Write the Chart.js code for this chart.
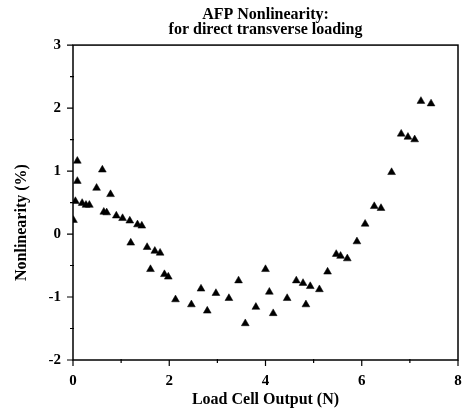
<!DOCTYPE html>
<html>
<head>
<meta charset="utf-8">
<script src="https://cdn.jsdelivr.net/npm/chart.js@4.4.1/dist/chart.umd.min.js"></script>
<style>
  body { margin: 0; background: #fff; }
  canvas { display: block; }
</style>
</head>
<body>
<canvas id="nonlinChart" width="464" height="410"></canvas>
<script>
    // load cell output (N) and nonlinearity (%)
    const loadN = [
      0.01, 0.05, 0.09, 0.09, 0.19, 0.27, 0.34, 0.49, 0.61, 0.64,
      0.70, 0.78, 0.90, 1.03, 1.18, 1.20, 1.34, 1.43, 1.54, 1.61,
      1.70, 1.81, 1.90, 1.98, 2.13, 2.46, 2.66, 2.79, 2.97, 3.24,
      3.44, 3.58, 3.80, 4.00, 4.08, 4.16, 4.45, 4.64, 4.78, 4.84,
      4.93, 5.12, 5.29, 5.47, 5.56, 5.70, 5.90, 6.07, 6.26, 6.40,
      6.62, 6.82, 6.96, 7.10, 7.23, 7.44
    ];
    const nonlinPct = [
      0.22, 0.52, 0.84, 1.16, 0.49, 0.46, 0.46, 0.73, 1.02, 0.35,
      0.34, 0.63, 0.29, 0.25, 0.21, -0.14, 0.15, 0.13, -0.21, -0.56,
      -0.27, -0.30, -0.64, -0.68, -1.04, -1.12, -0.87, -1.22, -0.94, -1.02,
      -0.74, -1.42, -1.16, -0.56, -0.92, -1.26, -1.02, -0.74, -0.78, -1.12,
      -0.83, -0.88, -0.60, -0.32, -0.35, -0.39, -0.12, 0.16, 0.44, 0.41,
      0.98, 1.59, 1.54, 1.50, 2.11, 2.07
    ];
    const xMajor = [0, 2, 4, 6, 8];
    const xMinor = [1, 3, 5, 7];
    const yMajor = [-2, -1, 0, 1, 2, 3];
    const yMinor = [-1.5, -0.5, 0.5, 1.5, 2.5];
    const titleLines = ['AFP Nonlinearity:', 'for direct transverse loading'];

    const serif = '"Liberation Serif", "Times New Roman", serif';
    const ctx = document.getElementById('nonlinChart').getContext('2d');

    // box round the plot plus the tick marks (long outside, short minor)
    const frameTicks = {
      id: 'frameTicks',
      afterDatasetsDraw(chart) {
        const { ctx, chartArea: a, scales: { x, y } } = chart;
        ctx.save();
        ctx.strokeStyle = '#000';
        ctx.lineWidth = 1.5;
        ctx.strokeRect(a.left, a.top, a.right - a.left, a.bottom - a.top);
        ctx.lineWidth = 1.2;
        ctx.beginPath();
        xMajor.forEach(v => {
          const px = x.getPixelForValue(v);
          ctx.moveTo(px, a.bottom); ctx.lineTo(px, a.bottom + 6);
        });
        xMinor.forEach(v => {
          const px = x.getPixelForValue(v);
          ctx.moveTo(px, a.bottom - 1); ctx.lineTo(px, a.bottom + 3);
        });
        yMajor.forEach(v => {
          const py = y.getPixelForValue(v);
          ctx.moveTo(a.left, py); ctx.lineTo(a.left - 6, py);
        });
        yMinor.forEach(v => {
          const py = y.getPixelForValue(v);
          ctx.moveTo(a.left + 1, py); ctx.lineTo(a.left - 3, py);
        });
        ctx.stroke();
        ctx.restore();
      }
    };

    new Chart(ctx, {
      type: 'scatter',
      data: {
        datasets: [{
          label: 'Nonlinearity',
          data: loadN.map((v, i) => ({ x: v, y: nonlinPct[i] })),
          pointStyle: 'triangle',
          pointRadius: 4.5,
          backgroundColor: '#000',
          borderColor: '#000',
          borderWidth: 0.5
        }]
      },
      options: {
        responsive: false,
        animation: false,
        layout: { padding: { left: 0, right: 6, top: 0, bottom: 0 } },
        plugins: {
          legend: { display: false },
          tooltip: { enabled: false },
          title: {
            display: true,
            fullSize: false, // centred over the plot, not the canvas
            text: titleLines,
            color: '#000',
            font: { family: serif, size: 16, weight: 'bold', lineHeight: 0.94 },
            padding: { top: 7, bottom: 8 }
          }
        },
        scales: {
          x: {
            type: 'linear',
            min: 0,
            max: 8,
            afterFit: s => { s.height = 50; s.paddingLeft = 0; s.paddingRight = 0; },
            grid: { display: false, drawTicks: false },
            border: { display: false },
            ticks: {
              stepSize: 2,
              padding: 12,
              color: '#000',
              font: { family: serif, size: 15, weight: 'bold' }
            },
            title: {
              display: true,
              text: 'Load Cell Output (N)',
              color: '#000',
              font: { family: serif, size: 16, weight: 'bold' },
              padding: { top: 0, bottom: 1 }
            }
          },
          y: {
            type: 'linear',
            min: -2,
            max: 3,
            afterFit: s => { s.width = 73; },
            grid: { display: false, drawTicks: false },
            border: { display: false },
            ticks: {
              stepSize: 1,
              padding: 12,
              color: '#000',
              font: { family: serif, size: 15, weight: 'bold' }
            },
            title: {
              display: true,
              // trailing spaces push the rotated text down, as in the source
              text: 'Nonlinearity (%)' + '\u00a0'.repeat(10),
              color: '#000',
              font: { family: serif, size: 16, weight: 'bold' },
              padding: { top: 12, bottom: 0 }
            }
          }
        }
      },
      plugins: [frameTicks]
    });
</script>
</body>
</html>
